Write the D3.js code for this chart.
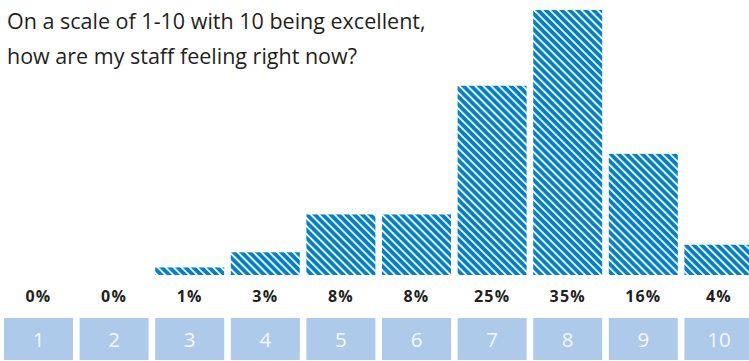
<!DOCTYPE html>
<html>
<head>
<meta charset="utf-8">
<script src="https://cdn.jsdelivr.net/npm/d3@7"></script>
<style>
  html, body { margin: 0; padding: 0; background: #fff; overflow: hidden; }
  svg { display: block; }
</style>
</head>
<body>
<svg id="chart" width="749" height="361"></svg>
<script>
// Survey answers on a 1-10 scale and the share of staff picking each score
const categories = ["1", "2", "3", "4", "5", "6", "7", "8", "9", "10"];
const shares = [0, 0, 1, 3, 8, 8, 25, 35, 16, 4];
const shareLabels = ["0%", "0%", "1%", "3%", "8%", "8%", "25%", "35%", "16%", "4%"];
const titleLines = [
  "On a scale of 1-10 with 10 being excellent,",
  "how are my staff feeling right now?"
];

const svg = d3.select("#chart");
const fontFamily = "'Open Sans', 'DejaVu Sans', sans-serif";

// hatched fill for the bars
const defs = svg.append("defs");
const step = 5.6;
const pat = defs.append("pattern")
  .attr("id", "hatch")
  .attr("patternUnits", "userSpaceOnUse")
  .attr("width", step)
  .attr("height", step)
  .attr("patternTransform", "rotate(-45)");
pat.append("rect").attr("width", step).attr("height", step).attr("fill", "#0580c6");
pat.append("rect").attr("x", 0).attr("width", 1.7).attr("height", step).attr("fill", "#ffffff");

const x = d3.scaleBand()
  .domain(categories)
  .range([4, 753.4])
  .paddingInner(0.0873)
  .paddingOuter(0);

const baseline = 275;
const y = d3.scaleLinear().domain([0, 35]).range([baseline, 10]);

// bars
svg.append("g").selectAll("rect")
  .data(categories)
  .join("rect")
  .attr("x", d => x(d))
  .attr("width", x.bandwidth())
  .attr("y", (d, i) => y(shares[i]))
  .attr("height", (d, i) => baseline - y(shares[i]))
  .attr("fill", "url(#hatch)");

// percentage labels
svg.append("g").selectAll("text")
  .data(categories)
  .join("text")
  .attr("x", d => x(d) + x.bandwidth() / 2)
  .attr("y", 302)
  .attr("text-anchor", "middle")
  .attr("font-family", fontFamily)
  .attr("font-weight", 700)
  .attr("font-size", 16)
  .attr("letter-spacing", 1.2)
  .attr("fill", "#231f20")
  .text((d, i) => shareLabels[i]);

// score boxes along the bottom
const boxes = svg.append("g").selectAll("g")
  .data(categories)
  .join("g");
boxes.append("rect")
  .attr("x", d => x(d))
  .attr("y", 318)
  .attr("width", x.bandwidth())
  .attr("height", 42)
  .attr("fill", "#aecaea");
boxes.append("text")
  .attr("x", d => x(d) + x.bandwidth() / 2)
  .attr("y", 346.5)
  .attr("text-anchor", "middle")
  .attr("font-family", fontFamily)
  .attr("font-size", 20.5)
  .attr("fill", "#f4f8fc")
  .text(d => d);

// question title
svg.append("g").selectAll("text")
  .data(titleLines)
  .join("text")
  .attr("x", 7)
  .attr("y", (d, i) => 29 + i * 35)
  .attr("font-family", fontFamily)
  .attr("font-size", 21.5)
  .attr("fill", "#231f20")
  .text(d => d);
</script>
</body>
</html>
